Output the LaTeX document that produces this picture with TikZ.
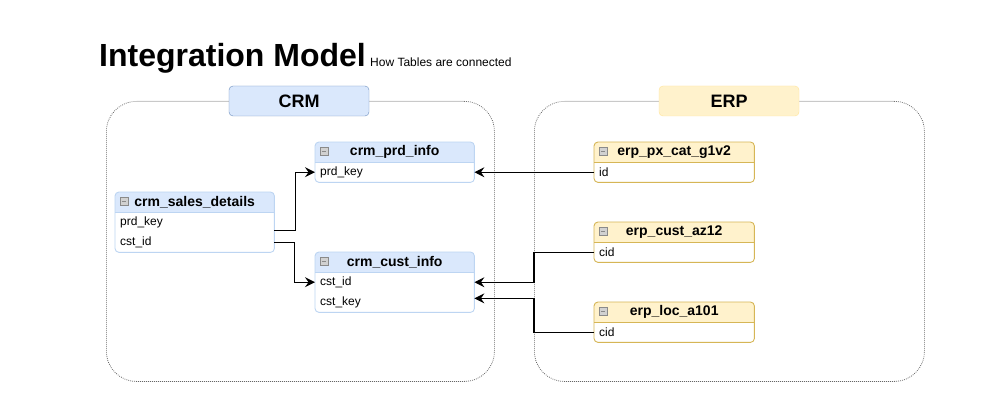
\documentclass[tikz,border=0pt]{standalone}
\usepackage{fontspec}
\setmainfont{Liberation Sans}
\usepackage{xcolor}
\usepackage{tikz}
\usetikzlibrary{calc,arrows.meta}
\definecolor{crmfill}{HTML}{DAE8FC}
\definecolor{crmline}{HTML}{BDD5F2}
\definecolor{crmlab}{HTML}{6C8EBF}
\definecolor{erpfill}{HTML}{FFF2CC}
\definecolor{erpline}{HTML}{D6B656}
\definecolor{erplab}{HTML}{FFE599}
\definecolor{muted}{HTML}{8A8A8A}
\definecolor{dots}{HTML}{666666}
\tikzset{
  grp/.style={draw=dots, line width=0.8pt, dash pattern=on 0.8pt off 1.2pt, rounded corners=30pt, anchor=north west, inner sep=0pt},
  lab/.style={rounded corners=4pt, minimum width=140pt, minimum height=30pt, inner sep=0pt, font=\fontsize{18}{20}\selectfont\bfseries},
  tab/.style={anchor=north west, inner sep=0pt},
  head/.style={inner sep=0pt, font=\fontsize{14}{16}\selectfont\bfseries},
  minus/.style={draw=muted, fill=black!18, minimum size=8pt, inner sep=0pt,
    path picture={\draw[line width=0.9pt] ([xshift=1.8pt]path picture bounding box.west) -- ([xshift=-1.8pt]path picture bounding box.east);}},
  row/.style={anchor=north west, text width=149pt, inner xsep=5pt, inner ysep=0pt, minimum height=20pt, align=left, font=\fontsize{12}{14}\selectfont},
  link/.style={draw=black, line width=1.2pt, -{Stealth[length=10pt, width=10pt, inset=3.5pt]}},
}

\begin{document}
\begin{tikzpicture}[x=1pt, y=-1pt]
  \fill[white] (0,0) rectangle (1008,406);
  \useasboundingbox (0,0) rectangle (1008,406);

  % title
  \node[anchor=base west, inner sep=0pt, font=\fontsize{32}{38}\selectfont\bfseries] (title) at (99,67) {Integration Model};
  \node[anchor=base west, inner sep=0pt, font=\fontsize{12}{14}\selectfont] (subtitle) at (370,67) {How Tables are connected};

  % groups
  \node[grp, minimum width=388pt, minimum height=280pt] (crm) at (106,101) {};
  \node[grp, minimum width=390pt, minimum height=280pt] (erp) at (534,101) {};
  \node[lab, fill=crmfill, draw=crmlab] (crm-lab) at (299,101) {CRM};
  \node[lab, fill=erpfill, draw=erplab] (erp-lab) at (729,101) {ERP};

  % table frames
  \node[tab, minimum width=159pt, minimum height=60pt] (sd) at (115,192) {};
  \node[tab, minimum width=159pt, minimum height=40pt] (pi) at (315,142) {};
  \node[tab, minimum width=159pt, minimum height=60pt] (ci) at (315,252) {};
  \node[tab, minimum width=160pt, minimum height=40pt] (px) at (594,142) {};
  \node[tab, minimum width=160pt, minimum height=40pt] (az) at (594,222) {};
  \node[tab, minimum width=160pt, minimum height=40pt] (loc) at (594,302) {};

  \foreach \t/\grp in {sd/crm, pi/crm, ci/crm, px/erp, az/erp, loc/erp} {
    \begin{scope}
      \clip[rounded corners=4pt] (\t.north west) rectangle (\t.south east);
      \fill[fill=\grp fill] (\t.north west) rectangle ([yshift=-20pt]\t.north east);
    \end{scope}
    \draw[draw=\grp line] ([yshift=-20pt]\t.north west) -- ([yshift=-20pt]\t.north east);
    \draw[draw=\grp line, line width=0.9pt, rounded corners=4pt] (\t.north west) rectangle (\t.south east);
    \node[minus] (\t-icon) at ([xshift=9pt, yshift=-9pt]\t.north west) {};
  }

  % headers
  \node[head] (sd-title) at ([yshift=-10pt]sd.north) {crm\_sales\_details};
  \node[head] (pi-title) at ([yshift=-10pt]pi.north) {crm\_prd\_info};
  \node[head] (ci-title) at ([yshift=-10pt]ci.north) {crm\_cust\_info};
  \node[head] (px-title) at ([yshift=-10pt]px.north) {erp\_px\_cat\_g1v2};
  \node[head] (az-title) at ([yshift=-10pt]az.north) {erp\_cust\_az12};
  \node[head] (loc-title) at ([yshift=-10pt]loc.north) {erp\_loc\_a101};

  % rows
  \node[row] (sd-prd) at ([yshift=-20pt]sd.north west) {prd\_key};
  \node[row] (sd-cst) at (sd-prd.south west) {cst\_id};
  \node[row] (pi-key) at ([yshift=-20pt]pi.north west) {prd\_key};
  \node[row] (ci-cst) at ([yshift=-20pt]ci.north west) {cst\_id};
  \node[row] (ci-key) at (ci-cst.south west) {cst\_key};
  \node[row, text width=150pt] (px-id) at ([yshift=-20pt]px.north west) {id};
  \node[row, text width=150pt] (az-cid) at ([yshift=-20pt]az.north west) {cid};
  \node[row, text width=150pt] (loc-cid) at ([yshift=-20pt]loc.north west) {cid};

  % relations
  \draw[link] ([yshift=2pt]sd-prd.south east) -- ++(21,0) |- (pi-key.west);
  \draw[link] (sd-cst.east) -- ++(20,0) |- (ci-cst.west);
  \draw[link] (px-id.west) -- (pi-key.east);
  \draw[link] (az-cid.west) -- ++(-60,0) |- (ci-cst.east);
  \draw[link] (loc-cid.west) -- ++(-60,0) |- ([yshift=-6pt]ci-key.north east);
\end{tikzpicture}
\end{document}
